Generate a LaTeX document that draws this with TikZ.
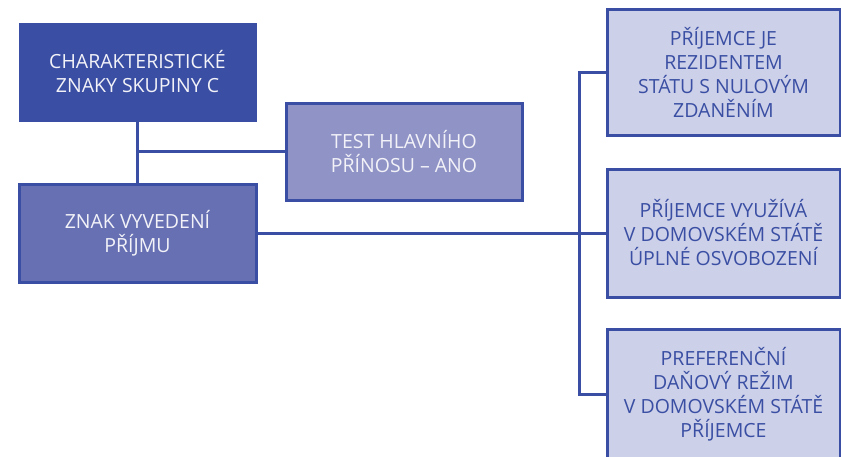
\documentclass[tikz,border=0pt]{standalone}
\usepackage{fontspec}
\setmainfont{Open Sans}
\definecolor{navy}{HTML}{3A4FA3}
\definecolor{midblue}{HTML}{6670B3}
\definecolor{lilac}{HTML}{8F93C6}
\definecolor{pale}{HTML}{CDD0E9}
\definecolor{whitish}{HTML}{F2F2F8}
\tikzset{
  box/.style={rectangle, draw=navy, line width=3pt, inner sep=0pt,
    align=center, font=\fontsize{19.5}{24}\selectfont},
  darkbox/.style={box, fill=navy, text=whitish},
  midbox/.style={box, fill=midblue, text=whitish},
  lilacbox/.style={box, fill=lilac, text=whitish},
  palebox/.style={box, fill=pale, text=navy, minimum width=233pt},
  link/.style={draw=navy, line width=3pt}
}
\begin{document}
\begin{tikzpicture}[x=1pt, y=-1pt]
  \useasboundingbox (0,0) rectangle (841,456);
  \begin{scope}
  \clip (0,0) rectangle (841,456);
  % left column
  \node[darkbox, minimum width=235pt, minimum height=96pt] (charakter) at (137.5,72)
    {CHARAKTERISTICKÉ\\ZNAKY SKUPINY C};
  \node[lilacbox, minimum width=236pt, minimum height=97pt] (test) at (404,151.5)
    {TEST HLAVNÍHO\\PŘÍNOSU – ANO};
  \node[midbox, minimum width=237pt, minimum height=98pt] (vyvedeni) at (137.5,233)
    {ZNAK VYVEDENÍ\\PŘÍJMU};
  % right column
  \node[palebox, minimum height=126pt] (nulove) at (723.5,72)
    {PŘÍJEMCE JE\\REZIDENTEM\\STÁTU S NULOVÝM\\ZDANĚNÍM};
  \node[palebox, minimum height=128pt] (osvobozeni) at (723.5,233)
    {PŘÍJEMCE VYUŽÍVÁ\\V DOMOVSKÉM STÁTĚ\\ÚPLNÉ OSVOBOZENÍ};
  \node[palebox, minimum height=130pt] (rezim) at (723.5,394)
    {PREFERENČNÍ\\DAŇOVÝ REŽIM\\V DOMOVSKÉM STÁTĚ\\PŘÍJEMCE};
  % trunk of the right-hand branching
  \coordinate (trunk) at (579,233);
  % connectors
  \draw[link] (charakter.south) -- (vyvedeni.north);
  \draw[link] (charakter.south |- test.west) -- (test.west);
  \draw[link] (vyvedeni.east) -- (osvobozeni.west);
  \draw[link] (nulove.west) -- (trunk |- nulove.west) -- (trunk |- rezim.west) -- (rezim.west);
  \end{scope}
\end{tikzpicture}
\end{document}
